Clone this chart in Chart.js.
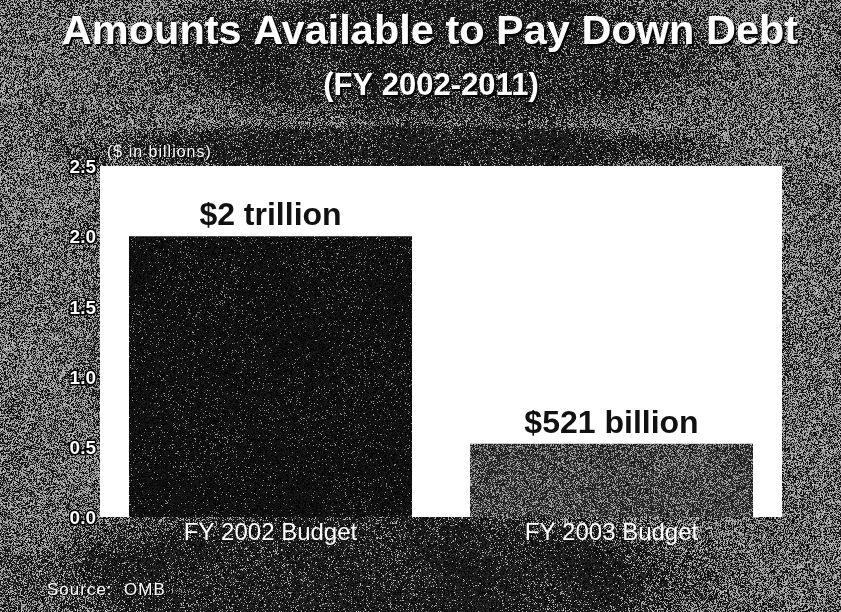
<!DOCTYPE html>
<html>
<head>
<meta charset="utf-8">
<script src="https://cdn.jsdelivr.net/npm/chart.js@4.4.1/dist/chart.umd.min.js"></script>
<style>
  html, body { margin: 0; padding: 0; background: #333; }
  #c { display: block; }
</style>
</head>
<body>
<canvas id="c" width="841" height="612"></canvas>
<script>
// Budget amounts available for debt reduction, FY 2002-2011
const categories = ['FY 2002 Budget', 'FY 2003 Budget'];
const amounts = [2.0, 0.521];               // trillions of dollars
const amountLabels = ['$2 trillion', '$521 billion'];
const yTickLabels = ['0.0', '0.5', '1.0', '1.5', '2.0', '2.5'];

const titleText = 'Amounts Available to Pay Down Debt';
const subtitleText = '(FY 2002-2011)';
const unitText = '($ in billions)';
const sourceText = 'Source:  OMB';

const W = 841, H = 612;
const FONT = '"Liberation Sans", Arial, Helvetica, sans-serif';

// deterministic integer hash -> [0,1)
function hash(x, y, s) {
  let h = Math.imul(x, 374761393) ^ Math.imul(y, 668265263) ^ Math.imul(s, 2246822519);
  h = Math.imul(h ^ (h >>> 13), 1274126177);
  h ^= h >>> 16;
  return (h >>> 0) / 4294967296;
}
function smooth(a, b, t) {
  const u = Math.min(1, Math.max(0, (t - a) / (b - a)));
  return u * u * (3 - 2 * u);
}
// 1 inside an ellipse, fading to 0 just outside it
function blob(x, y, cx, cy, rx, ry) {
  const dx = (x - cx) / rx, dy = (y - cy) / ry;
  return 1 - smooth(0.7, 1.3, Math.sqrt(dx * dx + dy * dy));
}

// grainy photocopy texture; density(x, y) gives the share of light specks
function grain(density, seed, lo, hi) {
  const off = document.createElement('canvas');
  off.width = W; off.height = H;
  const g = off.getContext('2d');
  const img = g.createImageData(W, H);
  const d = img.data;
  for (let y = 0; y < H; y++) {
    for (let x = 0; x < W; x++) {
      const m = density(x, y);
      const r = hash(x, y, seed);
      const k = hash(x, y, seed + 7);
      const v = r < m ? hi[0] + k * (hi[1] - hi[0]) : lo[0] + k * (lo[1] - lo[0]);
      const i = (y * W + x) * 4;
      d[i] = d[i + 1] = d[i + 2] = v;
      d[i + 3] = 255;
    }
  }
  g.putImageData(img, 0, 0);
  return off;
}

function mottle(x, y) {
  return Math.sin(x / 37 + y / 53) * Math.sin(y / 41 - x / 71) * 0.5 +
         Math.sin(x / 19 - y / 29) * 0.25;
}

const bgTexture = grain((x, y) => {
  const dark = Math.max(
    0.85 * blob(x, y, 430, 50, 270, 75),   // behind the heading
    blob(x, y, 400, 148, 300, 24),         // strip above the plot
    blob(x, y, 370, 578, 320, 72),         // band under the plot
    blob(x, y, 440, 340, 290, 170)         // behind the plot itself
  );
  let m = 0.52 * (1 - dark) + 0.1 * dark;
  if (x > 790) m = Math.max(m, 0.52);
  m += 0.09 * mottle(x, y);
  return Math.min(0.8, Math.max(0.03, m));
}, 11, [0, 50], [120, 200]);

const darkBarTexture = grain((x, y) => 0.05 + 0.04 * mottle(x, y), 23, [0, 30], [90, 160]);
const greyBarTexture = grain((x, y) => 0.33 + 0.1 * mottle(x, y), 37, [15, 65], [115, 180]);

const canvas = document.getElementById('c');
const ctx0 = canvas.getContext('2d');
const darkPattern = ctx0.createPattern(darkBarTexture, 'repeat');
const greyPattern = ctx0.createPattern(greyBarTexture, 'repeat');

const backdrop = {
  id: 'backdrop',
  beforeDraw(chart) {
    const { ctx, chartArea: a } = chart;
    ctx.save();
    ctx.drawImage(bgTexture, 0, 0);
    ctx.fillStyle = '#ffffff';
    ctx.fillRect(a.left, a.top, a.right - a.left, a.bottom - a.top);
    ctx.restore();
  }
};

const captions = {
  id: 'captions',
  afterDatasetsDraw(chart) {
    const { ctx } = chart;
    const meta = chart.getDatasetMeta(0);
    ctx.save();
    ctx.fillStyle = '#111111';
    ctx.font = 'bold 32px ' + FONT;
    ctx.textAlign = 'center';
    ctx.textBaseline = 'alphabetic';
    meta.data.forEach((bar, i) => {
      ctx.fillText(amountLabels[i], bar.x, bar.y - 11);
    });
    ctx.restore();
  },
  afterDraw(chart) {
    const { ctx, chartArea: a } = chart;
    ctx.save();
    ctx.textBaseline = 'alphabetic';
    ctx.fillStyle = '#ffffff';

    // title and subtitle with a dark drop shadow
    ctx.shadowColor = 'rgba(0,0,0,0.95)';
    ctx.shadowOffsetX = 2;
    ctx.shadowOffsetY = 2;
    ctx.shadowBlur = 1;
    ctx.textAlign = 'center';
    ctx.font = 'bold 41.5px ' + FONT;
    ctx.fillText(titleText, 430, 44);
    ctx.font = 'bold 31px ' + FONT;
    ctx.fillText(subtitleText, 431, 95);

    ctx.shadowOffsetX = 1;
    ctx.shadowOffsetY = 1;
    ctx.textAlign = 'left';
    ctx.letterSpacing = '1px';
    ctx.font = '16px ' + FONT;
    ctx.fillText(unitText, a.left + 7, 157);
    ctx.font = '17px ' + FONT;
    ctx.fillText(sourceText, 47, 595);
    ctx.restore();
  }
};

new Chart(canvas, {
  type: 'bar',
  data: {
    labels: categories,
    datasets: [{
      data: amounts,
      backgroundColor: [darkPattern, greyPattern],
      borderWidth: 0,
      barPercentage: 0.83,
      categoryPercentage: 1.0
    }]
  },
  options: {
    responsive: false,
    animation: false,
    devicePixelRatio: 1,
    layout: { padding: { top: 166, right: 59, bottom: 0, left: 0 } },
    plugins: {
      legend: { display: false },
      title: { display: false },
      tooltip: { enabled: false }
    },
    scales: {
      x: {
        grid: { display: false, drawTicks: false },
        border: { display: false },
        ticks: {
          color: '#ffffff',
          font: { family: FONT, size: 24 },
          padding: 2
        },
        afterFit(scale) { scale.height = 95; }
      },
      y: {
        min: 0,
        max: 2.5,
        grid: { display: false, drawTicks: false },
        border: { display: false },
        ticks: {
          stepSize: 0.5,
          color: '#ffffff',
          textStrokeColor: '#000000',
          textStrokeWidth: 3,
          font: { family: FONT, size: 19, weight: 'bold' },
          padding: 4,
          labelOffset: 2,
          callback: (v, i) => yTickLabels[i]
        },
        afterFit(scale) { scale.width = 100; }
      }
    }
  },
  plugins: [backdrop, captions]
});
</script>
</body>
</html>
